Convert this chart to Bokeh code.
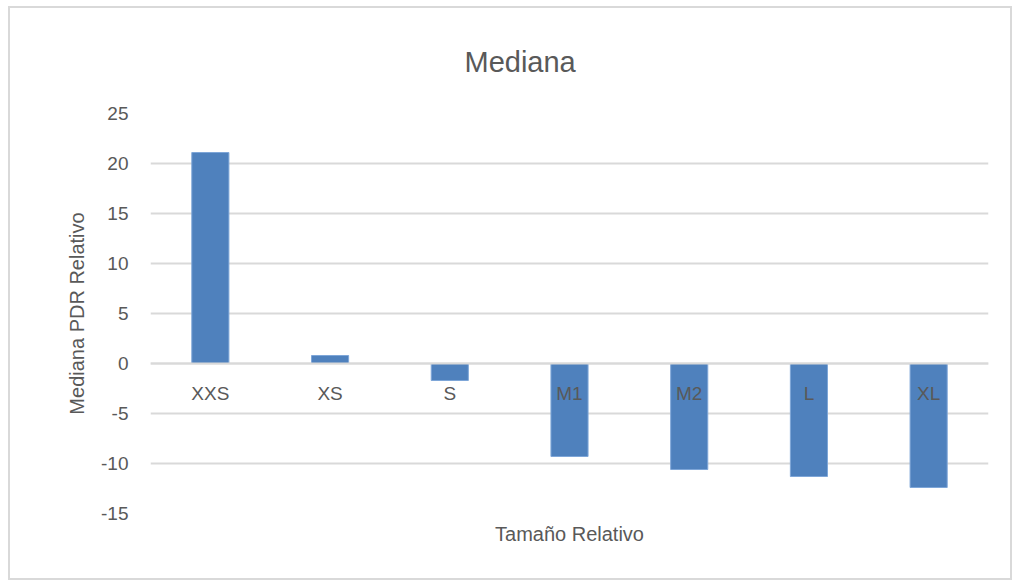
from bokeh.plotting import figure
from bokeh.models import Range1d, FixedTicker, PrintfTickFormatter, Title
from bokeh.embed import file_html
from bokeh.resources import INLINE

categories = ["XXS", "XS", "S", "M1", "M2", "L", "XL"]
values = [21.1, 0.8, -1.7, -9.3, -10.6, -11.3, -12.4]
y_ticks = [-15, -10, -5, 0, 5, 10, 15, 20, 25]

FONT = "Liberation Sans"
TXT = "#595959"

p = figure(x_range=categories, y_range=Range1d(-15, 25), width=1004, height=574,
           output_backend="svg", toolbar_location=None,
           min_border_left=140, min_border_right=26, min_border_top=104, min_border_bottom=69)
p.styles = {"border": "2px solid #d9d9d9", "margin-left": "8px", "margin-top": "6px"}
p.outline_line_color = None
p.background_fill_color = "white"
p.border_fill_color = "white"

t = Title(text="Mediana", align="left", text_font=FONT, text_font_size="29px",
          text_font_style="normal", text_color=TXT, standoff=71, offset=314)
p.add_layout(t, "above")

p.vbar(x=categories, top=values, bottom=0, width=0.31, fill_color="#4f81bd",
       line_color="#7ea6d8", line_width=1)

# y axis
p.yaxis.ticker = FixedTicker(ticks=y_ticks)
p.yaxis.formatter = PrintfTickFormatter(format="%d")
p.yaxis.axis_line_color = None
p.yaxis.major_tick_line_color = None
p.yaxis.minor_tick_line_color = None
p.yaxis.major_label_text_font = FONT
p.yaxis.major_label_text_font_size = "19px"
p.yaxis.major_label_text_color = TXT
p.yaxis.major_label_standoff = 16
p.yaxis.axis_label = "Mediana PDR Relativo"
p.yaxis.axis_label_text_font = FONT
p.yaxis.axis_label_text_font_size = "20px"
p.yaxis.axis_label_text_font_style = "normal"
p.yaxis.axis_label_text_color = TXT
p.yaxis.axis_label_standoff = 10

p.ygrid.ticker = FixedTicker(ticks=y_ticks)
p.ygrid.grid_line_color = "#d9d9d9"
p.ygrid.grid_line_width = 2
p.xgrid.grid_line_color = None

# x axis at zero line with category labels
p.xaxis.fixed_location = 0
p.xaxis.axis_line_color = "#d9d9d9"
p.xaxis.axis_line_width = 2
p.xaxis.major_tick_line_color = None
p.xaxis.minor_tick_line_color = None
p.xaxis.major_label_text_font = FONT
p.xaxis.major_label_text_font_size = "19px"
p.xaxis.major_label_text_color = TXT
p.xaxis.major_label_standoff = 13

# x axis title below the plot
xt = Title(text="Tamaño Relativo", align="center", text_font=FONT, text_font_size="20px",
           text_font_style="normal", text_color=TXT, standoff=14)
p.add_layout(xt, "below")

open("out.html", "w").write(file_html(p, INLINE))
